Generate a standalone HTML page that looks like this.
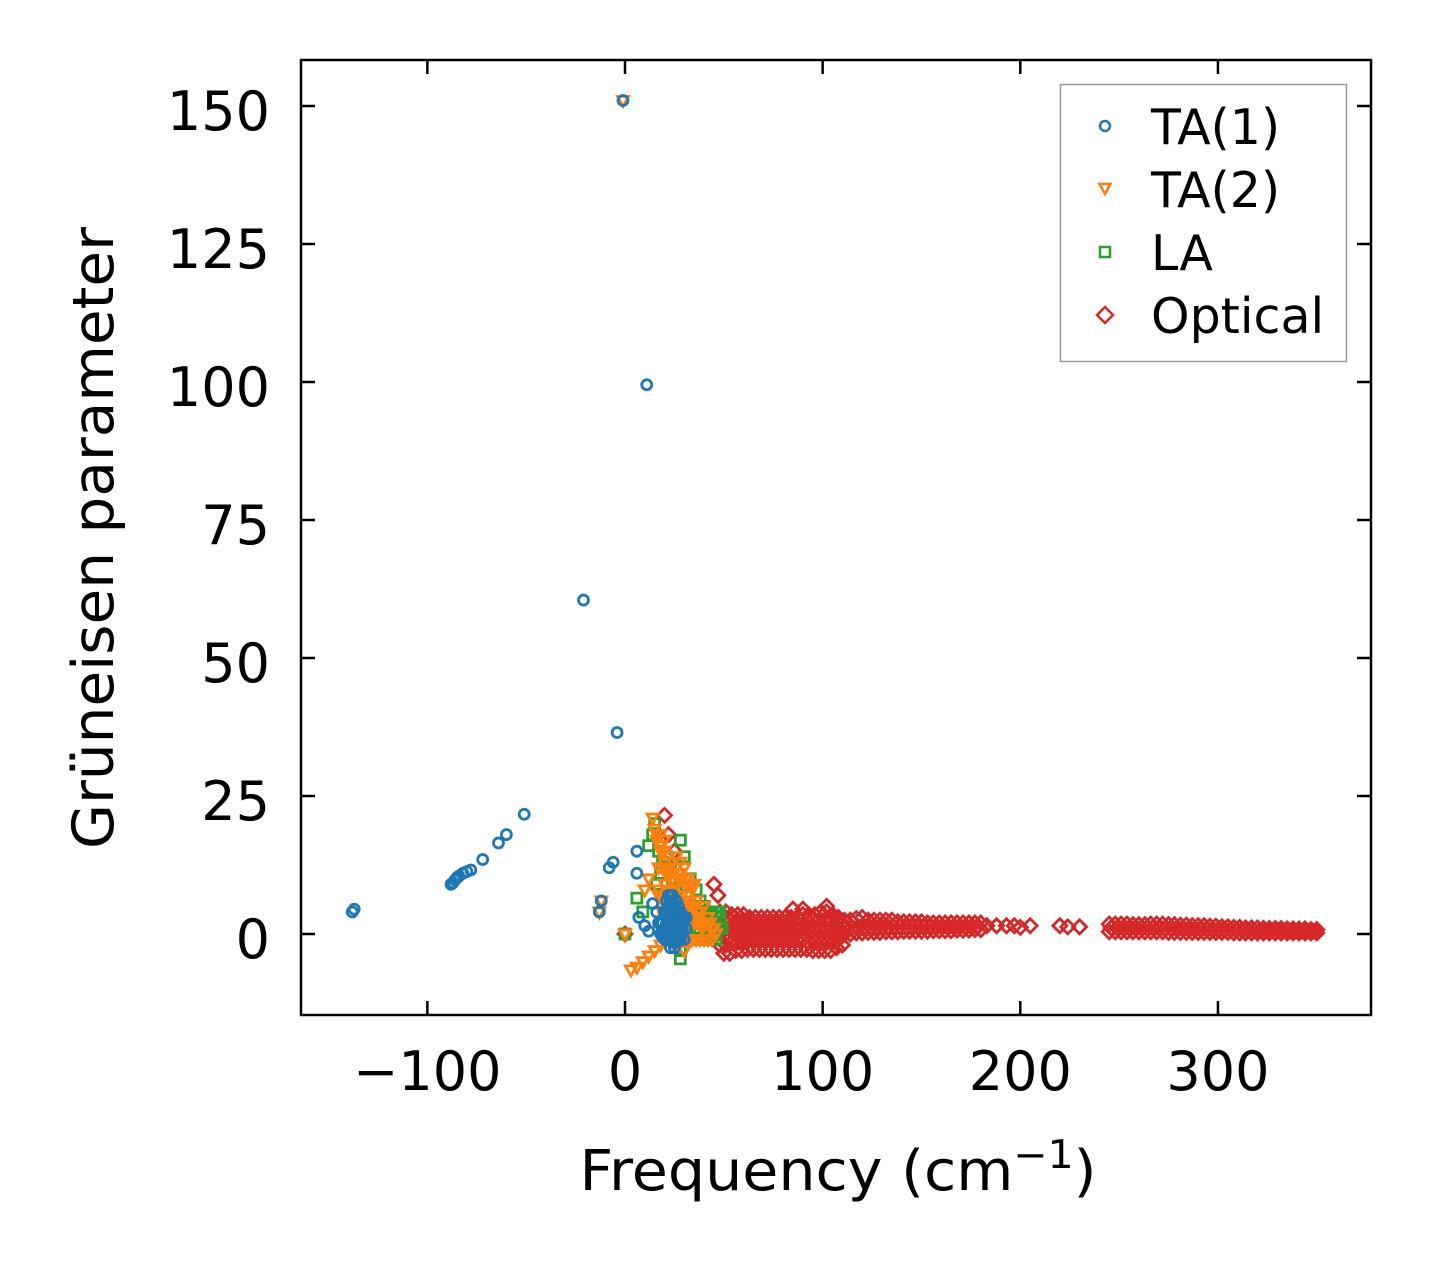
<!DOCTYPE html>
<html><head><meta charset="utf-8"><style>
body{margin:0;background:#fff;}
svg{display:block;font-family:"DejaVu Sans","Liberation Sans",sans-serif;}
</style></head><body>
<svg id="chart" width="1431" height="1264" viewBox="0 0 1431 1264" xmlns="http://www.w3.org/2000/svg">
<rect width="1431" height="1264" fill="#fff"/>
<g id="marks"></g>
<g id="axes"></g>
<text x="838" y="1190" font-size="56" text-anchor="middle" textLength="517" lengthAdjust="spacingAndGlyphs">Frequency (cm<tspan dy="-22" font-size="39">−1</tspan><tspan dy="22">)</tspan></text>
<text transform="translate(113,538) rotate(-90)" font-size="57" text-anchor="middle" textLength="622" lengthAdjust="spacingAndGlyphs">Grüneisen parameter</text>
<g>
<rect x="1060.5" y="84.5" width="286" height="277" fill="#fff" fill-opacity="0.8" stroke="#999" stroke-width="1.5"/>
<circle cx="1105" cy="126" r="5" fill="none" stroke="#1f77b4" stroke-width="2.5"/>
<text x="1151" y="144" font-size="49">TA(1)</text>
<path d="M1099.5,184 L1110.5,184 L1105,194 Z" fill="none" stroke="#ff7f0e" stroke-width="2.5"/>
<text x="1151" y="207" font-size="49">TA(2)</text>
<rect x="1100" y="247" width="10" height="10" fill="none" stroke="#2ca02c" stroke-width="2.5"/>
<text x="1151" y="270" font-size="49">LA</text>
<path d="M1105,307 L1113,315 L1105,323 L1097,315 Z" fill="none" stroke="#d62728" stroke-width="2.5"/>
<text x="1151" y="333" font-size="49">Optical</text>
</g>
</svg>
<script>
const xTicks=[-100,0,100,200,300];
const yTicks=[0,25,50,75,100,125,150];
const ta1Freq=[-138,-137,-88,-87,-86,-85,-84,-82,-80,-78,-72,-64,-60,-51,-21,-4,-1,11,-8,-6,-12,-13,6,6,7,10,12,14,16,17,18,19,20,21,22,23,24,25,26,27,27,28,29,30,24,22,20,18,23,25,26,28,
19,21,23,25,27,29,31,19,21,23,25,27,29,31,20,22,24,26,28,30,20,22,24,26,28,30,21,23,25,27,22,24,26,23,25];
const ta1Gamma=[4,4.5,9,9.3,9.8,10.2,10.5,11,11.3,11.6,13.5,16.5,18,21.7,60.5,36.5,151,99.5,12,13,6,4,15,11,3,1.5,0.5,5.5,4,2,0,-0.5,1,3,5,7,6,4,2,0,-1,3,1,2.5,-1,0,-0.5,2,4,1,-1.5,0,
0,0,0,0,0,0,1,2,2,2,2,2,2,3,4,4,4,4,4,3,-1,-1,-1.5,-1.5,-1,-1,6,6,5,5,7,7,6,-2.5,-2.5];
const ta2Freq=[-1,0,-13,-12,3,6,9,12,15,18,14,15,16,18,20,22,24,26,28,30,32,34,20,22,25,27,30,33,35,38,40,42,44,46,36,25,30,20,23,10,12,17,19,21,24,27,29,31,33,37,39,41,43,
17,19,21,23,25,27,29,31,33,35,17,19,21,23,25,27,29,31,33,35,37,19,21,23,25,27,29,31,33,35,37,39,41,43,45,22,24,26,28,30,32,34,36,38,40,42,44,18,20,22,24,16,18,20];
const ta2Gamma=[151,0,4,6,-6.5,-6,-5,-4,-3,-2,21,19,17,15,13,12,10,14,13,12,10,8,9,7,5,3,1,-1,2,4,5,3,1,0,6,-2,-3,3,1,8,10,8,6,11,8,10,7,9,5,3,1,0,2,
12,12,12,11,11,11,10,10,9,9,7,7,8,8,8,7,7,6,6,5,4,4,4,4,4,4,4,3,3,3,2,2,2,2,1,0,0,0,0,0,-1,-1,-1,-1,-1,-1,-1,16,15,14,13,18,18,17];
const laFreq=[12,14,15,17,19,28,30,24,26,33,36,38,40,42,44,46,48,35,30,28,28,6,9,0,32,21,23,16,18,31,34,37,39,45,47,49,
30,32,34,36,38,40,42,44,46,48,36,38,40,42,44,46,48,34,36,38,40,42,44,46];
const laGamma=[16,18,20,15,13,17,14,10,8,10,8,6,5,4,3,2,3,3,5,-3,-4.5,6.5,4,0,1,14,12,9,11,7,5,1,-1,0,4,1,
2,3,4,4,4,4,4,4,4,4,1,1,1,1,1,1,1,-1,-1,-1,-1,-1,-1,-1];
const optFreq=[20,22,25,45,47,85,90,102,0,
48,51,54,57,60,63,66,69,72,75,78,81,84,87,90,93,96,99,102,105,108,
48,51,54,57,60,63,66,69,72,75,78,81,84,87,90,93,96,99,102,105,108,
48,51,54,57,60,63,66,69,72,75,78,81,84,87,90,93,96,99,102,105,108,
50,53,56,59,62,65,68,71,74,77,80,83,86,89,92,95,98,101,104,107,110,
50,53,56,59,62,65,68,71,74,77,80,83,86,89,92,95,98,101,104,107,110,
50,53,56,59,62,65,68,71,74,77,80,83,86,89,92,95,98,101,104,107,110,
111,114,117,120,123,126,129,132,135,138,141,144,147,150,153,156,159,162,165,168,171,174,177,180,
111,114,117,120,123,126,129,132,135,138,141,144,147,150,153,156,159,162,165,168,171,174,177,180,
112,115,118,121,124,127,130,133,136,139,142,145,148,151,154,157,160,163,166,169,172,175,178,
183,188,193,197,200,205,220,224,230,
245,248,251,254,257,260,263,266,269,272,275,278,281,284,287,290,293,296,299,302,305,308,311,314,317,320,323,326,329,332,335,338,341,344,347,350,
245,248,251,254,257,260,263,266,269,272,275,278,281,284,287,290,293,296,299,302,305,308,311,314,317,320,323,326,329,332,335,338,341,344,347,350,
246,249,252,255,258,261,264,267,270,273,276,279,282,285,288,291,294,297,300,303,306,309,312,315,318,321,324,327,330,333,336,339,342,345,348];
const optGamma=[21.5,18,15,9,7,4.5,4.5,5,0,
4,4,3.5,3.5,3.5,3,3,3,3,3,3,3,3,3,3.5,3.5,3.5,4,4,3.5,3,
1,1,1,1,1,1,1,1,1,1,1,1,1,1,1,1,1,1,1,1,1,
-2,-2,-1.5,-1.5,-1.5,-1,-1,-1,-1,-1,-1,-1,-1,-1,-1,-1.5,-1.5,-1.5,-1.5,-1.5,-1,
2.5,2.5,2.3,2.3,2.2,2.2,2.2,2.2,2.2,2.2,2.2,2.2,2.2,2.5,2.5,2.5,2.5,2.5,2.5,2.3,2,
-0.5,-0.5,-0.3,-0.3,-0.3,-0.3,-0.3,-0.3,-0.3,-0.3,-0.3,-0.3,-0.3,-0.3,-0.3,-0.5,-0.5,-0.5,-0.5,-0.3,-0.2,
-3.5,-3.5,-3,-3,-2.8,-2.8,-2.8,-2.8,-2.8,-2.8,-2.8,-2.8,-2.8,-2.8,-2.8,-3,-3,-3,-3,-2.5,-2,
2.5,2.5,2.8,3,2.5,2.5,2.5,2.5,2.5,2.2,2.2,2.2,2.2,2.2,2,2,2,2,2,2,2,2,2,2,
0,0,0.2,0.2,0.3,0.3,0.3,0.4,0.4,0.4,0.5,0.5,0.5,0.5,0.5,0.6,0.6,0.6,0.6,0.7,0.7,0.7,0.8,0.8,
1.2,1.2,1.3,1.3,1.3,1.3,1.3,1.3,1.3,1.3,1.3,1.3,1.3,1.3,1.3,1.3,1.3,1.3,1.3,1.3,1.3,1.3,1.3,
1.5,1.5,1.5,1.5,1.2,1.5,1.5,1.3,1.3,
1.8,1.8,1.8,1.8,1.7,1.7,1.7,1.8,1.8,1.8,1.7,1.7,1.6,1.6,1.5,1.5,1.5,1.4,1.4,1.3,1.3,1.2,1.2,1.1,1.1,1.1,1.0,1.0,1.0,1.0,0.9,0.9,0.9,0.9,0.8,0.8,
0.4,0.4,0.4,0.4,0.4,0.4,0.4,0.4,0.4,0.4,0.3,0.3,0.3,0.3,0.3,0.3,0.3,0.3,0.3,0.3,0.3,0.2,0.2,0.2,0.2,0.2,0.2,0.2,0.2,0.2,0.2,0.2,0.2,0.2,0.2,0.2,
1.1,1.1,1.1,1.1,1.1,1.1,1.1,1.1,1.1,1.0,1.0,1.0,1.0,0.9,0.9,0.9,0.9,0.8,0.8,0.8,0.8,0.7,0.7,0.7,0.7,0.6,0.6,0.6,0.6,0.6,0.5,0.5,0.5,0.5,0.5];

const L=301,R=1371,T=60,B=1015;
const sx=v=>625+v*1.9765;
const sy=v=>934-v*5.52;
const NS='http://www.w3.org/2000/svg';
const marks=document.getElementById('marks');
const axes=document.getElementById('axes');
function mk(tag,attrs,parent){const e=document.createElementNS(NS,tag);for(const k in attrs)e.setAttribute(k,attrs[k]);parent.appendChild(e);return e;}

function drawOpt(){for(let i=0;i<optFreq.length;i++){const x=sx(optFreq[i]),y=sy(optGamma[i]);
const e=mk('path',{d:`M${x},${y-7} L${x+7},${y} L${x},${y+7} L${x-7},${y} Z`,fill:'none',stroke:'#d62728','stroke-width':2.8},marks);

}}
function drawLA(){for(let i=0;i<laFreq.length;i++){const x=sx(laFreq[i]),y=sy(laGamma[i]);
const e=mk('rect',{x:x-5,y:y-5,width:10,height:10,fill:'none',stroke:'#2ca02c','stroke-width':2.8},marks);

}}
function drawTA2(){for(let i=0;i<ta2Freq.length;i++){const x=sx(ta2Freq[i]),y=sy(ta2Gamma[i]);
const e=mk('path',{d:`M${x-5.5},${y-4} L${x+5.5},${y-4} L${x},${y+6} Z`,fill:'none',stroke:'#ff7f0e','stroke-width':2.8},marks);

}}
function drawTA1(){for(let i=0;i<ta1Freq.length;i++){const x=sx(ta1Freq[i]),y=sy(ta1Gamma[i]);
const e=mk('circle',{cx:x,cy:y,r:5,fill:'none',stroke:'#1f77b4','stroke-width':2.8},marks);

}}
drawOpt();drawLA();drawTA2();drawTA1();

const frame=mk('rect',{x:L,y:T,width:R-L,height:B-T,fill:'none',stroke:'#000','stroke-width':2.5},axes);


xTicks.forEach(v=>{const x=sx(v);
mk('line',{x1:x,y1:B,x2:x,y2:B-14,stroke:'#000','stroke-width':2.5},axes);
mk('line',{x1:x,y1:T,x2:x,y2:T+14,stroke:'#000','stroke-width':2.5},axes);
const t=mk('text',{x:x,y:B+75,'font-size':54,'text-anchor':'middle'},axes);
t.textContent=v<0?'−'+Math.abs(v):String(v);

});
yTicks.forEach(v=>{const y=sy(v);
mk('line',{x1:L,y1:y,x2:L+14,y2:y,stroke:'#000','stroke-width':2.5},axes);
mk('line',{x1:R,y1:y,x2:R-14,y2:y,stroke:'#000','stroke-width':2.5},axes);
const t=mk('text',{x:270,y:y+24,'font-size':54,'text-anchor':'end'},axes);
t.textContent=String(v);

});
</script>
</body></html>
